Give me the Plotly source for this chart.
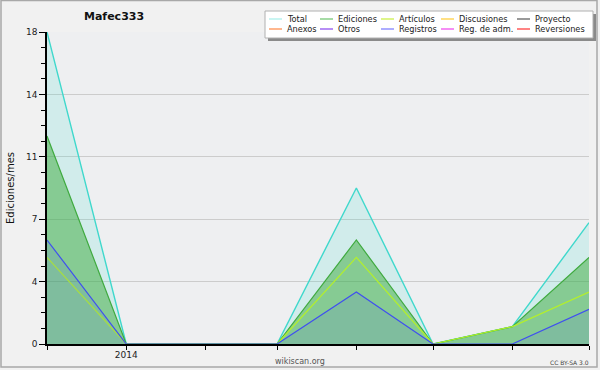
import plotly.graph_objects as go

# ---- data ----
months = ["2013-12-01", "2014-01-01", "2014-02-01", "2014-03-01",
          "2014-04-01", "2014-05-01", "2014-06-01", "2014-07-01"]
month_labels = ["", "2014", "", "", "", "", "", ""]
total = [18, 0, 0, 0, 9, 0, 1, 7]
ediciones = [12, 0, 0, 0, 6, 0, 1, 5]
articulos = [5, 0, 0, 0, 5, 0, 1, 3]
registros = [6, 0, 0, 0, 3, 0, 0, 2]

y_tickvals = [0, 3.6, 7.2, 10.8, 14.4, 18]
y_ticktext = ["0", "4", "7", "11", "14", "18"]

legend_row1 = ["Total", "Ediciones", "Artículos", "Discusiones", "Proyecto"]
legend_row2 = ["Anexos", "Otros", "Registros", "Reg. de adm.", "Reversiones"]
legend_colors1 = ["#a6eeea", "#6cc46c", "#c8ee3c", "#ffcc33", "#555555"]
legend_colors2 = ["#ff8844", "#8844ee", "#7777ff", "#ee44ee", "#ff3333"]

# ---- layout geometry (pixels) ----
W, H = 600, 370
L, R, T, B = 47, 11, 32, 26
PW, PH = W - L - R, H - T - B
FONT = "DejaVu Sans"


def px(x):
    return (x - L) / PW


def py(y):
    return (H - B - y) / PH


fig = go.Figure()

series = [
    ("Total", total, "#3fd8cc", "rgba(64,224,208,0.16)", 1.4),
    ("Ediciones", ediciones, "#3faa3f", "rgba(60,170,60,0.50)", 1.2),
    ("Artículos", articulos, "#b4f02a", None, 1.2),
    ("Registros", registros, "#3f4ff0", "rgba(64,64,255,0.10)", 1.2),
]
for name, vals, col, fillc, w in series:
    fig.add_trace(go.Scatter(
        x=months, y=vals, name=name, mode="lines",
        line=dict(color=col, width=w),
        fill="tozeroy" if fillc else None,
        fillcolor=fillc,
        showlegend=False,
        cliponaxis=False,
    ))

shapes = []
annotations = []

# outer border
shapes.append(dict(type="rect", xref="paper", yref="paper",
                   x0=px(1), x1=px(597), y0=py(367), y1=py(0.5),
                   line=dict(color="#a8a8a8", width=1.5), fillcolor="rgba(0,0,0,0)",
                   layer="below"))

# legend box: shadow + box
lx0, lx1, ly0, ly1 = 265, 593, 11, 38
shapes.append(dict(type="rect", xref="paper", yref="paper",
                   x0=px(lx0 + 3), x1=px(lx1 + 3), y0=py(ly1 + 3), y1=py(ly0 + 3),
                   line=dict(width=0), fillcolor="#8a8a8a", layer="above"))
shapes.append(dict(type="rect", xref="paper", yref="paper",
                   x0=px(lx0), x1=px(lx1), y0=py(ly1), y1=py(ly0),
                   line=dict(color="#b0b0b0", width=1), fillcolor="#ffffff", layer="above"))

text_x = [285, 336, 397, 457, 533]
row_y = [19, 29]
for r, (names, cols) in enumerate([(legend_row1, legend_colors1), (legend_row2, legend_colors2)]):
    for i, (n, c) in enumerate(zip(names, cols)):
        shapes.append(dict(type="line", xref="paper", yref="paper",
                           x0=px(text_x[i] - 16), x1=px(text_x[i] - 3),
                           y0=py(row_y[r]), y1=py(row_y[r]),
                           line=dict(color=c, width=1.2), layer="above"))
        annotations.append(dict(text=n, xref="paper", yref="paper",
                                x=px(text_x[i]), y=py(row_y[r]),
                                xanchor="left", yanchor="middle", showarrow=False,
                                font=dict(family=FONT, size=8.2, color="#222222")))

# title
annotations.append(dict(text="<b>Mafec333</b>", xref="paper", yref="paper",
                        x=px(114), y=py(17), xanchor="center", yanchor="middle",
                        showarrow=False, font=dict(family=FONT, size=11, color="#111111")))
# footer texts
annotations.append(dict(text="wikiscan.org", xref="paper", yref="paper",
                        x=px(300), y=py(361), xanchor="center", yanchor="middle",
                        showarrow=False, font=dict(family=FONT, size=8, color="#555555")))
annotations.append(dict(text="CC BY-SA 3.0", xref="paper", yref="paper",
                        x=px(569), y=py(362), xanchor="center", yanchor="middle",
                        showarrow=False, font=dict(family=FONT, size=6, color="#444444")))

fig.update_layout(
    width=W, height=H,
    margin=dict(l=L, r=R, t=T, b=B, pad=0, autoexpand=False),
    paper_bgcolor="#f1f1f1",
    plot_bgcolor="#eeeff1",
    showlegend=False,
    shapes=shapes,
    annotations=annotations,
    font=dict(family=FONT, size=9, color="#222222"),
)

fig.update_xaxes(
    range=[months[0], months[-1]],
    tickmode="array", tickvals=months, ticktext=month_labels,
    ticks="outside", ticklen=4, tickcolor="#000000", tickwidth=1,
    showline=True, linecolor="#000000", linewidth=1.5,
    showgrid=False, zeroline=False, automargin=False,
    ticklabelstandoff=-3,
    tickfont=dict(family=FONT, size=9, color="#222222"),
)
fig.update_yaxes(
    range=[0, 18],
    tickmode="array", tickvals=y_tickvals, ticktext=y_ticktext,
    ticks="outside", ticklen=6, tickcolor="#000000", tickwidth=1,
    minor=dict(dtick=0.9, tick0=0, ticks="outside", ticklen=4, tickcolor="#000000", showgrid=False),
    showline=True, linecolor="#000000", linewidth=1.5,
    showgrid=True, gridcolor="#cccccc", gridwidth=1,
    zeroline=False, automargin=False,
    tickfont=dict(family=FONT, size=9, color="#222222"),
    title=dict(text="Ediciones/mes", font=dict(family=FONT, size=10, color="#111111"), standoff=9),
)

fig.write_html(
    "out.html",
    config={"displayModeBar": False},
    post_script="document.body.style.margin='0px';document.body.style.overflow='hidden';",
)
